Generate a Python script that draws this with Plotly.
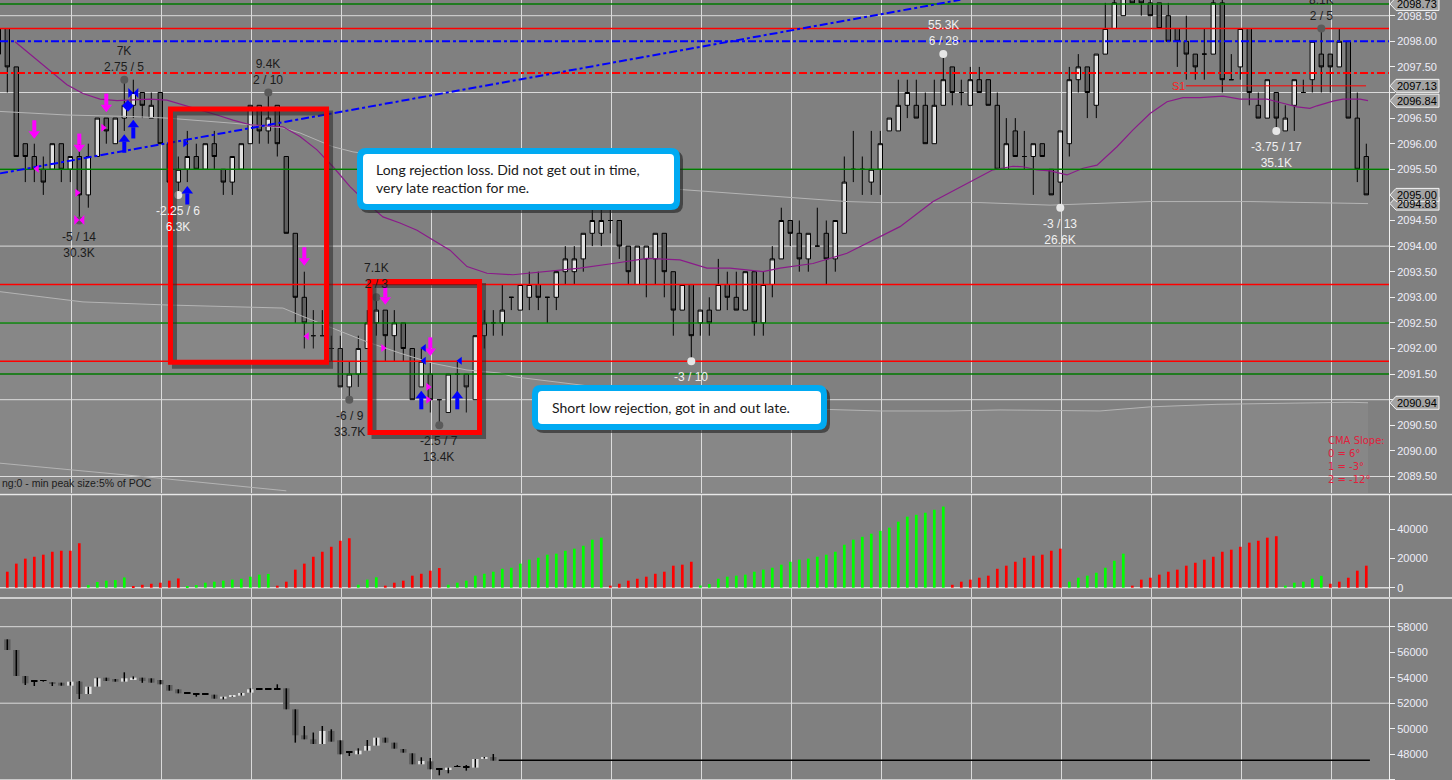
import plotly.graph_objects as go

# ======================= DATA =======================
# ---- main price panel (bar index -1 is the partially visible bar at the left edge)
bar_index = list(range(-1, 152))
price_open = [2097.75, 2098.25, 2097.5, 2096.0, 2095.75, 2095.5, 2095.5, 2096.0, 2095.5, 2095.75,
              2095.0, 2095.75, 2096.5, 2096.0, 2096.5, 2096.75, 2097.0, 2096.5, 2097.0, 2096.0,
              2095.25, 2095.5, 2095.75, 2095.5, 2096.0, 2095.5, 2095.25, 2095.5, 2096.0, 2096.75,
              2096.25, 2096.75, 2095.75, 2094.25, 2093.0, 2092.25, 2092.25, 2092.0, 2092.0, 2091.25,
              2091.5, 2092.0, 2092.5, 2092.75, 2092.25, 2092.5, 2092.0, 2091.25, 2091.5, 2091.0,
              2090.75, 2091.5, 2091.5, 2091.0, 2092.25, 2092.5, 2092.5, 2093.0, 2092.75, 2093.0,
              2093.25, 2093.0, 2093.0, 2093.5, 2093.5, 2093.75, 2094.25, 2094.25, 2094.5, 2094.5,
              2094.0, 2093.25, 2093.75, 2093.75, 2094.25, 2093.5, 2092.75, 2093.25, 2092.5, 2092.75,
              2092.75, 2093.25, 2093.0, 2092.75, 2093.5, 2092.5, 2093.25, 2093.75, 2094.5, 2094.25,
              2093.75, 2094.0, 2094.25, 2093.75, 2094.25, 2095.5, 2095.5, 2095.25, 2095.5, 2096.25,
              2096.25, 2096.75, 2096.75, 2096.75, 2096.0, 2096.75, 2097.5, 2097.0, 2096.75, 2097.25,
              2097.25, 2096.75, 2095.5, 2096.25, 2095.75, 2095.75, 2096.0, 2095.5, 2095.25, 2096.0,
              2097.25, 2097.5, 2096.75, 2097.75, 2098.25, 2098.5, 2099.0, 2099.0, 2098.75, 2098.75,
              2098.5, 2098.25, 2098.0, 2097.75, 2097.75, 2097.75, 2098.75, 2097.25, 2097.5, 2098.25,
              2096.75, 2096.5, 2097.0, 2096.25, 2096.75, 2097.0, 2097.25, 2097.75, 2097.75, 2097.5,
              2098.0, 2096.5, 2095.75]
price_high = [2098.25, 2098.25, 2097.5, 2096.0, 2096.0, 2095.75, 2096.0, 2096.0, 2095.75, 2096.0,
              2096.0, 2096.5, 2096.5, 2096.5, 2097.25, 2097.25, 2097.0, 2097.0, 2097.0, 2096.0,
              2095.75, 2096.25, 2096.0, 2096.0, 2096.25, 2095.5, 2095.75, 2096.0, 2096.75, 2096.75,
              2097.0, 2096.75, 2095.75, 2094.25, 2093.5, 2092.75, 2092.75, 2092.25, 2092.25, 2091.75,
              2092.25, 2092.75, 2093.0, 2092.75, 2092.75, 2092.5, 2092.0, 2092.0, 2091.75, 2091.0,
              2091.5, 2091.75, 2091.5, 2092.25, 2092.75, 2092.75, 2093.25, 2093.0, 2093.25, 2093.5,
              2093.5, 2093.0, 2093.5, 2094.0, 2094.0, 2094.25, 2094.75, 2094.75, 2094.75, 2094.5,
              2094.0, 2094.0, 2094.0, 2094.25, 2094.25, 2093.5, 2093.25, 2093.25, 2092.75, 2093.0,
              2093.75, 2093.5, 2093.5, 2093.5, 2093.5, 2093.5, 2094.0, 2094.75, 2094.5, 2094.5,
              2094.25, 2094.75, 2094.5, 2094.5, 2095.75, 2096.25, 2095.75, 2096.25, 2096.25, 2096.5,
              2097.25, 2097.25, 2097.25, 2097.0, 2097.25, 2097.75, 2097.5, 2097.25, 2097.5, 2097.5,
              2097.25, 2097.0, 2096.5, 2096.5, 2096.25, 2096.0, 2096.0, 2095.5, 2096.25, 2097.5,
              2097.75, 2097.5, 2097.75, 2098.75, 2099.0, 2099.25, 2099.25, 2099.0, 2099.0, 2098.75,
              2098.75, 2098.25, 2098.5, 2097.75, 2098.25, 2099.0, 2099.0, 2097.75, 2098.25, 2098.25,
              2097.0, 2097.25, 2097.0, 2096.75, 2097.25, 2097.25, 2098.0, 2098.25, 2097.75, 2098.25,
              2098.0, 2097.0, 2096.0]
price_low = [2097.75, 2097.0, 2095.75, 2095.25, 2095.25, 2095.0, 2095.5, 2095.25, 2095.25, 2094.5,
             2094.75, 2095.75, 2096.0, 2096.0, 2096.25, 2096.5, 2096.5, 2096.5, 2096.0, 2095.25,
             2095.0, 2095.25, 2095.5, 2095.5, 2095.5, 2095.0, 2095.0, 2095.5, 2096.0, 2096.0,
             2096.0, 2095.75, 2094.25, 2092.5, 2092.0, 2092.0, 2092.25, 2091.75, 2091.25, 2091.0,
             2091.25, 2092.0, 2092.25, 2091.75, 2091.75, 2091.75, 2091.0, 2091.25, 2090.75, 2090.5,
             2090.75, 2091.0, 2090.75, 2091.0, 2092.0, 2092.25, 2092.25, 2092.75, 2092.75, 2092.75,
             2092.75, 2092.5, 2092.75, 2093.25, 2093.25, 2093.5, 2094.0, 2094.0, 2094.25, 2093.75,
             2093.25, 2093.25, 2093.0, 2093.25, 2093.0, 2092.25, 2092.75, 2091.75, 2092.25, 2092.25,
             2092.75, 2092.75, 2092.75, 2092.75, 2092.25, 2092.25, 2093.0, 2093.75, 2094.0, 2093.5,
             2093.5, 2094.0, 2093.25, 2093.5, 2094.25, 2095.25, 2095.0, 2095.0, 2095.0, 2096.25,
             2096.25, 2096.5, 2096.5, 2096.0, 2096.0, 2096.75, 2096.75, 2096.75, 2096.75, 2097.0,
             2096.75, 2095.5, 2095.5, 2095.75, 2095.5, 2095.0, 2095.75, 2095.0, 2094.75, 2095.75,
             2097.0, 2096.5, 2096.5, 2097.75, 2098.25, 2098.5, 2098.75, 2098.5, 2098.5, 2098.25,
             2098.0, 2097.5, 2097.25, 2097.25, 2097.25, 2097.75, 2097.0, 2097.25, 2097.25, 2096.75,
             2096.5, 2096.5, 2096.25, 2096.25, 2096.25, 2097.0, 2097.0, 2097.0, 2097.0, 2097.5,
             2096.5, 2095.25, 2095.0]
price_close = [2098.25, 2097.5, 2095.75, 2095.75, 2095.5, 2095.25, 2096.0, 2095.5, 2095.75, 2095.0,
               2095.75, 2096.5, 2096.25, 2096.5, 2096.75, 2097.0, 2096.75, 2096.75, 2096.0, 2095.25,
               2095.5, 2095.75, 2095.5, 2096.0, 2095.75, 2095.25, 2095.75, 2096.0, 2096.75, 2096.25,
               2096.5, 2096.0, 2094.25, 2093.0, 2092.5, 2092.25, 2092.25, 2092.0, 2091.25, 2091.5,
               2092.0, 2092.5, 2092.75, 2092.25, 2092.5, 2092.0, 2091.0, 2091.75, 2091.0, 2091.0,
               2091.5, 2091.5, 2091.25, 2092.25, 2092.5, 2092.5, 2092.75, 2093.0, 2093.25, 2093.25,
               2093.0, 2093.0, 2093.5, 2093.75, 2093.75, 2094.25, 2094.5, 2094.5, 2094.5, 2094.0,
               2093.5, 2094.0, 2094.0, 2094.25, 2093.5, 2092.75, 2093.25, 2092.25, 2092.75, 2092.5,
               2093.25, 2093.0, 2092.75, 2093.5, 2092.5, 2093.25, 2093.75, 2094.5, 2094.25, 2093.75,
               2094.25, 2094.0, 2093.75, 2094.5, 2095.25, 2095.5, 2095.5, 2095.5, 2096.0, 2096.5,
               2096.75, 2097.0, 2096.5, 2096.0, 2096.75, 2097.25, 2097.0, 2097.0, 2097.25, 2097.0,
               2096.75, 2095.5, 2096.0, 2095.75, 2095.75, 2096.0, 2095.75, 2095.0, 2096.25, 2097.25,
               2097.5, 2097.0, 2097.75, 2098.25, 2098.75, 2099.0, 2098.75, 2098.75, 2098.5, 2098.25,
               2098.0, 2098.0, 2097.75, 2097.5, 2097.75, 2098.75, 2097.25, 2097.25, 2098.25, 2097.0,
               2096.5, 2097.25, 2096.5, 2096.5, 2097.25, 2097.0, 2098.0, 2097.5, 2097.5, 2098.0,
               2096.5, 2095.5, 2095.0]

# moving average (purple) read at sample bars
cma_x = [0.86, 2.86, 4.74, 6.63, 8.41, 10.3, 12.19, 13.97, 15.86, 17.74, 19.52, 21.41, 23.3, 25.08,
         26.97, 28.86, 30.63, 32.52, 34.41, 36.19, 38.08, 39.97, 41.74, 43.63, 45.52, 47.3, 49.19,
         51.08, 53.3, 56.19, 59.97, 63.63, 67.3, 71.08, 74.74, 77.74, 80.3, 83.97, 85.86, 89.52,
         93.3, 96.97, 99.19, 102.86, 106.97, 109.52, 111.74, 112.86, 114.41, 115.86, 117.74, 119.52,
         121.08, 123.3, 125.08, 126.97, 128.86, 130.63, 132.52, 135.08, 136.97, 139.97, 141.74,
         143.3, 144.74, 145.52, 147.3, 148.41, 150.3, 151.19]
cma_y = [2097.99, 2097.70, 2097.44, 2097.15, 2096.98, 2096.87, 2096.84, 2096.85, 2096.87, 2096.85,
         2096.76, 2096.66, 2096.56, 2096.46, 2096.37, 2096.35, 2096.33, 2096.14, 2095.88, 2095.55,
         2095.16, 2094.84, 2094.57, 2094.45, 2094.31, 2094.12, 2093.92, 2093.60, 2093.47, 2093.44,
         2093.50, 2093.57, 2093.66, 2093.76, 2093.73, 2093.57, 2093.57, 2093.50, 2093.57, 2093.66,
         2093.86, 2094.18, 2094.38, 2094.87, 2095.26, 2095.49, 2095.56, 2095.55, 2095.49, 2095.47,
         2095.39, 2095.52, 2095.58, 2095.94, 2096.27, 2096.59, 2096.82, 2096.90, 2096.90, 2096.93,
         2096.87, 2096.87, 2096.79, 2096.72, 2096.69, 2096.74, 2096.83, 2096.87, 2096.87, 2096.84]

# light-grey band curves
band_up_x = [-0.81, 2.86, 6.63, 13.97, 17.74, 25.08, 28.86, 30.63, 32.52, 34.41, 36.19, 38.41,
             49.2, 60.3, 74.74, 83.97, 93.3, 96.97, 108.08, 115.86, 126.97, 138.08, 151.19]
band_up_y = [2096.63, 2096.60, 2096.56, 2096.53, 2096.50, 2096.40, 2096.33, 2096.31, 2096.21,
             2096.07, 2095.94, 2095.84, 2095.58, 2095.29, 2095.10, 2094.98, 2094.87, 2094.85,
             2094.85, 2094.80, 2094.87, 2094.87, 2094.83]
band_mid_x = [-0.81, 8.41, 17.74, 30.63, 32.52, 36.19, 39.97, 43.63, 47.3, 51.08, 54.74, 56.19,
              63.63, 76.97, 91.08, 96.97, 104.74, 110.3, 121.41, 126.97, 134.41, 141.74, 149.19, 151.19]
band_mid_y = [2093.11, 2092.91, 2092.85, 2092.79, 2092.65, 2092.39, 2092.13, 2091.91, 2091.71,
              2091.58, 2091.52, 2091.45, 2091.29, 2091.0, 2090.81, 2090.78, 2090.78, 2090.80,
              2090.78, 2090.86, 2090.91, 2090.93, 2090.95, 2090.94]
band_low_x = [-0.81, 15.0, 31.0]
band_low_y = [2089.76, 2089.5, 2089.22]

# horizontal levels
level_green = [2098.73, 2095.5, 2092.5, 2091.5]
level_red = [2098.25, 2093.25, 2091.75]
level_blue_dashdot = [2098.0]
level_red_dashdot = [2097.38]
s1_level = 2097.13
s1_x = [130.97, 150.97]
trend_x = [-0.81, 105.9]
trend_y = [2095.42, 2098.81]

# signal markers (bar position, price)
mag_down_x = [3, 8, 11, 33, 42, 47]
mag_down_y = [2096.27, 2096.01, 2096.79, 2093.79, 2093.03, 2092.03]
blue_up_x = [13, 14, 20, 46, 50]
blue_up_y = [2096.01, 2096.29, 2095.0, 2091.0, 2091.0]
mag_right_x = [7.75, 10.65, 41.75, 46.75, 46.75]
mag_right_y = [2095.04, 2096.31, 2092.01, 2091.25, 2091.0]
mag_left_x = [3.3, 33.3]
mag_left_y = [2095.51, 2092.24]
blue_right_x = [19.75]
blue_right_y = [2096.01]
blue_left_x = [46.3, 46.3, 50.3]
blue_left_y = [2092.01, 2091.76, 2091.76]
mag_bowtie_x = [8]
mag_bowtie_y = [2094.51]
blue_bowtie_x = [14]
blue_bowtie_y = [2096.99]
blue_diamond_x = [13.4]
blue_diamond_y = [2096.74]

# swing points
swing_x = [13, 29, 8, 19, 38, 41, 48, 76, 104, 117, 141, 146]
swing_y = [2097.25, 2097.0, 2094.5, 2095.0, 2091.0, 2093.0, 2090.5, 2091.75, 2097.75, 2094.75, 2096.25, 2098.25]
swing_text = ["7K<br>2.75 / 5", "9.4K<br>2 / 10", "-5 / 14<br>30.3K", "-2.25 / 6<br>6.3K",
              "-6 / 9<br>33.7K", "7.1K<br>2 / 3", "-2.5 / 7<br>13.4K", "-3 / 10",
              "55.3K<br>6 / 28", "-3 / 13<br>26.6K", "-3.75 / 17<br>35.1K", "8.1K<br>2 / 5"]
swing_side = ["up", "up", "down", "down", "down", "up", "down", "down", "up", "down", "down", "up"]
swing_tone = ["dark", "dark", "dark", "light", "dark", "dark", "dark", "light", "light", "light", "light", "dark"]

# price tags on the right axis
tag_values = [2098.73, 2097.13, 2096.84, 2094.83, 2095.00, 2090.94]

# ---- wave volume panel (thousands), one per bar 0..151
wave_vol_k = [10.9, 16.4, 19.8, 21.1, 22.5, 24.5, 25.2, 25.2, 30.3,
              1.8, 3.9, 4.8, 5.2, 7.0,
              1.1, 2.0, 2.7, 3.4, 4.8, 6.3,
              1.1, 1.8, 3.4, 4.1, 4.8, 5.5, 6.1, 7.5, 8.9, 9.4,
              1.4, 4.1, 12.3, 16.4, 21.1, 24.5, 27.9, 32.0, 33.7,
              2.0, 5.5, 7.1,
              1.4, 3.4, 4.8, 8.2, 9.5, 11.6, 13.4,
              2.0, 3.4, 4.8, 8.2, 9.5, 10.9, 12.9, 13.6, 16.4, 19.1, 20.4, 22.5, 23.2, 25.2, 26.6, 28.6, 32.7, 34.1,
              1.4, 2.7, 4.8, 6.1, 7.5, 9.5, 10.9, 15.0, 15.7, 17.7,
              1.5, 2.5, 6.1, 7.5, 8.2, 8.9, 10.9, 12.3, 13.6, 15.7, 17.7, 19.1, 19.8, 21.1, 22.5, 24.5, 29.3,
              32.7, 34.7, 36.8, 38.8, 40.9, 45.0, 48.4, 49.7, 51.1, 53.1, 55.3,
              2.0, 4.1, 5.5, 6.8, 8.2, 12.9, 15.0, 17.7, 20.4, 21.8, 22.5, 25.2, 26.6,
              4.1, 6.8, 8.2, 10.2, 13.6, 18.4, 23.2,
              1.4, 5.5, 6.8, 8.9, 10.9, 12.3, 15.0, 17.0, 19.1, 21.1, 24.5, 25.9, 27.9, 30.7, 32.0, 34.1, 35.1,
              1.4, 3.4, 4.1, 6.1, 8.1,
              2.7, 4.1, 6.8, 11.6, 15.0]
wave_dir = (["dn"] * 9 + ["up"] * 5 + ["dn"] * 6 + ["up"] * 10 + ["dn"] * 9 + ["up"] * 3 + ["dn"] * 7 +
            ["up"] * 18 + ["dn"] * 10 + ["up"] * 28 + ["dn"] * 13 + ["up"] * 7 + ["dn"] * 17 +
            ["up"] * 5 + ["dn"] * 5)

# ---- lower panel (second instrument)
low_index = list(range(0, 55))
low_open = [57009, 56173, 54134, 53690, 53742, 53637, 53611, 53376, 53690, 52723, 53298, 54003, 53899,
            53690, 53873, 54003, 53951, 53820, 53428, 53088, 52800, 52696, 52670, 52670, 52356, 52513,
            52592, 52827, 53088, 53088, 53088, 53167, 51520, 49481, 49167, 48801, 49821, 49089, 48122,
            47991, 48279, 48671, 49298, 48906, 48410, 48070, 47207, 47442, 46815, 46815, 46998, 46972,
            46946, 47651, 47782]
low_high = [57009, 56173, 54134, 53820, 53820, 53637, 53611, 53690, 53742, 53298, 54003, 54003, 53899,
            54422, 54100, 54003, 53951, 53820, 53428, 53088, 52800, 52696, 52696, 52670, 52513, 52592,
            52801, 53167, 53167, 53167, 53481, 53167, 51520, 50213, 49700, 50213, 49952, 49089, 48122,
            48462, 49115, 49298, 49298, 48906, 48410, 48070, 47756, 47704, 46815, 46946, 47155, 47155,
            47625, 47782, 48017]
low_low = [56173, 54134, 53428, 53350, 53690, 53350, 53376, 53376, 52330, 52723, 53298, 53742, 53690,
           53690, 53873, 53600, 53611, 53481, 52984, 52775, 52775, 52513, 52670, 52356, 52300, 52513,
           52592, 52827, 53088, 53088, 53088, 51520, 48906, 49167, 48801, 48801, 48985, 47991, 47860,
           47991, 48279, 48671, 48906, 48436, 48122, 47207, 47207, 46815, 46344, 46501, 46998, 46710,
           46946, 47651, 47494]
low_close = [56173, 54134, 53559, 53700, 53742, 53507, 53376, 53690, 52723, 53298, 53951, 53742, 53690,
             53951, 54003, 53742, 53611, 53481, 52984, 52775, 52775, 52690, 52680, 52356, 52513, 52592,
             52801, 53088, 53090, 53090, 53085, 51520, 49481, 49167, 48801, 49821, 48985, 47991, 48120,
             48279, 48645, 49298, 48906, 48436, 48122, 47207, 47468, 46815, 46810, 46946, 47000, 46975,
             47625, 47782, 47494]
low_last_x = [54.6, 151.4]
low_last_y = [47520, 47520]

# ======================= STYLE / LAYOUT =======================
W, H = 1452, 780
PW = 1389                      # plot area width in px (right axis at x=1389)
BG = "#808080"
GRID = "#dadada"
AXTXT = "#eeeef8"
XR = [(0 - 7.3) / 9, (PW - 7.3) / 9]
TOP_RANGE = [2089.1777, 2098.8066]
VOL_RANGE = [-6337, 63169]
LOW_RANGE = [45976, 60173]
PX_PER_PT = 51.2
TOP_DOM = [1 - 493 / H, 1]
VOL_DOM = [1 - 597 / H, 1 - 495 / H]
LOW_DOM = [0, 1 - 599 / H]
FONT = "Liberation Sans, Arial, sans-serif"
CALLOUT_FONT = "Lato, Open Sans, sans-serif"

def pxx(x):
    return x / PW

def pxy(y):
    return 1 - y / H

fig = go.Figure()

# ---- top panel background shading below the lower-middle curve
fig.add_trace(go.Scatter(x=band_mid_x + band_mid_x[::-1],
                         y=band_mid_y + [TOP_RANGE[0]] * len(band_mid_x), mode="lines",
                         line=dict(width=0), fill="toself", fillcolor="rgba(255,255,255,0.06)",
                         hoverinfo="skip", xaxis="x", yaxis="y"))

for bx, by in [(band_up_x, band_up_y), (band_mid_x, band_mid_y), (band_low_x, band_low_y)]:
    fig.add_trace(go.Scatter(x=bx, y=by, mode="lines", line=dict(color="#b4b4b4", width=1),
                             hoverinfo="skip", xaxis="x", yaxis="y"))

# ---- candles
fig.add_trace(go.Candlestick(
    x=bar_index, open=price_open, high=price_high, low=price_low, close=price_close,
    increasing=dict(fillcolor="#e1e1e1", line=dict(color="#000000", width=1)),
    decreasing=dict(fillcolor="#5f5f5f", line=dict(color="#000000", width=1)),
    whiskerwidth=0, hoverinfo="skip", xaxis="x", yaxis="y"))

# ---- moving average
fig.add_trace(go.Scatter(x=cma_x, y=cma_y, mode="lines", line=dict(color="#8a1a8a", width=1.2),
                         hoverinfo="skip", xaxis="x", yaxis="y"))

# ---- levels
for lv in level_green:
    fig.add_trace(go.Scatter(x=XR, y=[lv, lv], mode="lines", line=dict(color="#007a00", width=1.5),
                             hoverinfo="skip", xaxis="x", yaxis="y"))
for lv in level_red:
    fig.add_trace(go.Scatter(x=XR, y=[lv, lv], mode="lines", line=dict(color="#ff0000", width=1.5),
                             hoverinfo="skip", xaxis="x", yaxis="y"))
for lv in level_blue_dashdot:
    fig.add_trace(go.Scatter(x=XR, y=[lv, lv], mode="lines",
                             line=dict(color="#0000ff", width=2, dash="8px,3px,3px,3px"),
                             hoverinfo="skip", xaxis="x", yaxis="y"))
for lv in level_red_dashdot:
    fig.add_trace(go.Scatter(x=XR, y=[lv, lv], mode="lines",
                             line=dict(color="#ff0000", width=2, dash="8px,3px,3px,3px"),
                             hoverinfo="skip", xaxis="x", yaxis="y"))
fig.add_trace(go.Scatter(x=s1_x, y=[s1_level, s1_level], mode="lines", line=dict(color="#ff0000", width=1),
                         hoverinfo="skip", xaxis="x", yaxis="y"))
fig.add_trace(go.Scatter(x=trend_x, y=trend_y, mode="lines",
                         line=dict(color="#0000ff", width=2, dash="8px,3px,3px,3px"),
                         hoverinfo="skip", xaxis="x", yaxis="y"))

# ---- swing dots
for sx, sy, tone in zip(swing_x, swing_y, swing_tone):
    fig.add_trace(go.Scatter(x=[sx], y=[sy], mode="markers",
                             marker=dict(symbol="circle", size=8,
                                         color="#e6e6e6" if tone == "light" else "#5a5a5a"),
                             hoverinfo="skip", xaxis="x", yaxis="y"))

# ---- signal markers
off = 4 / PX_PER_PT
MAG = "#ff00ff"
BLUE = "#0000ff"
fig.add_trace(go.Scatter(x=mag_down_x, y=[v + off for v in mag_down_y], mode="markers",
                         marker=dict(symbol="line-ns", size=8, line=dict(color=MAG, width=4)),
                         hoverinfo="skip", xaxis="x", yaxis="y"))
fig.add_trace(go.Scatter(x=mag_down_x, y=[v - off for v in mag_down_y], mode="markers",
                         marker=dict(symbol="triangle-down", size=10, color=MAG),
                         hoverinfo="skip", xaxis="x", yaxis="y"))
fig.add_trace(go.Scatter(x=blue_up_x, y=[v - off for v in blue_up_y], mode="markers",
                         marker=dict(symbol="line-ns", size=8, line=dict(color=BLUE, width=4)),
                         hoverinfo="skip", xaxis="x", yaxis="y"))
fig.add_trace(go.Scatter(x=blue_up_x, y=[v + off for v in blue_up_y], mode="markers",
                         marker=dict(symbol="triangle-up", size=10, color=BLUE),
                         hoverinfo="skip", xaxis="x", yaxis="y"))
for xs, ys, sym, col, sz in [(mag_right_x, mag_right_y, "triangle-right", MAG, 7),
                             (mag_left_x, mag_left_y, "triangle-left", MAG, 7),
                             (blue_right_x, blue_right_y, "triangle-right", BLUE, 7),
                             (blue_left_x, blue_left_y, "triangle-left", BLUE, 7),
                             (mag_bowtie_x, mag_bowtie_y, "bowtie", MAG, 10),
                             (blue_bowtie_x, blue_bowtie_y, "bowtie", BLUE, 10),
                             (blue_diamond_x, blue_diamond_y, "diamond", BLUE, 9)]:
    fig.add_trace(go.Scatter(x=xs, y=ys, mode="markers", marker=dict(symbol=sym, size=sz, color=col),
                             hoverinfo="skip", xaxis="x", yaxis="y"))

# ---- wave volume
vol_colors = ["#00ff00" if d == "up" else "#ff0000" for d in wave_dir]
fig.add_trace(go.Bar(x=bar_index[1:], y=[v * 1000 for v in wave_vol_k], width=0.3,
                     marker=dict(color=vol_colors, line=dict(width=0)), hoverinfo="skip",
                     xaxis="x2", yaxis="y2"))

# ---- lower panel candles
wx, wy = [], []
for i, h, l in zip(low_index, low_high, low_low):
    wx += [i, i, None]
    wy += [l, h, None]
fig.add_trace(go.Scatter(x=wx, y=wy, mode="lines", line=dict(color="#000000", width=1.5),
                         hoverinfo="skip", xaxis="x3", yaxis="y3"))
body_base, body_h, body_col = [], [], []
for o, c in zip(low_open, low_close):
    body_base.append(min(o, c))
    if abs(c - o) < 60:
        body_h.append(70)
        body_col.append("#000000")
    else:
        body_h.append(abs(c - o))
        body_col.append("#e1e1e1" if c > o else "#5f5f5f")
fig.add_trace(go.Bar(x=low_index, y=body_h, base=body_base, width=0.72,
                     marker=dict(color=body_col, line=dict(width=0)), hoverinfo="skip",
                     xaxis="x3", yaxis="y3"))
fig.add_trace(go.Scatter(x=low_last_x, y=low_last_y, mode="lines", line=dict(color="#000000", width=1.5),
                         hoverinfo="skip", xaxis="x3", yaxis="y3"))

# ======================= AXES =======================
grid_x = [7.08 + 10 * k for k in range(16)]
xcommon = dict(range=XR, showticklabels=False, tickvals=grid_x, showgrid=True, gridcolor=GRID,
               gridwidth=1, zeroline=False, showline=False, ticks="", fixedrange=True)
ycommon = dict(side="right", showgrid=False, zeroline=False, showline=True, linecolor="#f0f0f0",
               linewidth=1, ticks="outside", ticklen=5, tickcolor="#f0f0f0", tickwidth=1,
               tickfont=dict(family=FONT, size=11, color=AXTXT), fixedrange=True)

top_ticks = [2089.5 + 0.5 * k for k in range(19)]
# tick labels hidden underneath the price tags
covered = [2097.0, 2095.0, 2091.0]
top_text = ["" if v in covered else f"{v:.2f}" for v in top_ticks]
vol_ticks = [0, 20000, 40000]
low_ticks = [46000 + 2000 * k for k in range(7)]

fig.update_layout(
    width=W, height=H, margin=dict(l=0, r=W - PW, t=0, b=0),
    paper_bgcolor=BG, plot_bgcolor=BG, showlegend=False, hovermode=False,
    xaxis=dict(domain=[0, 1], anchor="y", rangeslider=dict(visible=False), **xcommon),
    xaxis2=dict(domain=[0, 1], anchor="y2", **xcommon),
    xaxis3=dict(domain=[0, 1], anchor="y3", **xcommon),
    yaxis=dict(domain=TOP_DOM, anchor="x", range=TOP_RANGE, tickvals=top_ticks,
               ticktext=top_text, **ycommon),
    yaxis2=dict(domain=VOL_DOM, anchor="x2", range=VOL_RANGE, tickvals=vol_ticks,
                ticktext=[str(v) for v in vol_ticks], **ycommon),
    yaxis3=dict(domain=LOW_DOM, anchor="x3", range=LOW_RANGE, tickvals=low_ticks,
                ticktext=[str(v) for v in low_ticks], **ycommon),
    barmode="overlay",
)

shapes = []
# horizontal grid lines
for v in [2089.5 + 1.5 * k for k in range(7)]:
    shapes.append(dict(type="line", xref="x domain", yref="y", x0=0, x1=1, y0=v, y1=v,
                       line=dict(color=GRID, width=1), layer="below"))
shapes.append(dict(type="line", xref="x2 domain", yref="y2", x0=0, x1=1, y0=0, y1=0,
                   line=dict(color=GRID, width=1.5), layer="below"))
for v in [46000, 52000, 58000]:
    shapes.append(dict(type="line", xref="x3 domain", yref="y3", x0=0, x1=1, y0=v, y1=v,
                       line=dict(color=GRID, width=1), layer="below"))
# panel separators
for ypx in [494.5, 598]:
    shapes.append(dict(type="line", xref="paper", yref="paper", x0=0, x1=W / PW, y0=pxy(ypx), y1=pxy(ypx),
                       line=dict(color="#e8e8e8", width=1.5), layer="above"))

# red highlight rectangles (in data coordinates) with drop shadow
rects = [(18.13, 35.47, 2096.68, 2091.73), (40.3, 52.47, 2093.31, 2090.36)]
sx_off, sy_off = 4 / 9, 4 / PX_PER_PT
for x0, x1, y0, y1 in rects:
    shapes.append(dict(type="rect", xref="x", yref="y", x0=x0 + sx_off, x1=x1 + sx_off,
                       y0=y0 - sy_off, y1=y1 - sy_off,
                       line=dict(color="rgba(40,40,40,0.55)", width=5), layer="above"))
    shapes.append(dict(type="rect", xref="x", yref="y", x0=x0, x1=x1, y0=y0, y1=y1,
                       line=dict(color="#ff0000", width=5), layer="above"))


def rr_path(x0, y0, x1, y1, r):
    def P(x, y):
        return f"{pxx(x):.6f},{pxy(y):.6f}"
    return (f"M {P(x0 + r, y0)} L {P(x1 - r, y0)} Q {P(x1, y0)} {P(x1, y0 + r)} "
            f"L {P(x1, y1 - r)} Q {P(x1, y1)} {P(x1 - r, y1)} L {P(x0 + r, y1)} "
            f"Q {P(x0, y1)} {P(x0, y1 - r)} L {P(x0, y0 + r)} Q {P(x0, y0)} {P(x0 + r, y0)} Z")


callouts = [((357, 148, 680, 210), "Long rejection loss. Did not get out in time,<br>very late reaction for me.", 374),
            ((532, 385, 827, 430), "Short low rejection, got in and out late.", 550)]
annotations = []
for (x0, y0, x1, y1), txt, tx in callouts:
    shapes.append(dict(type="path", xref="paper", yref="paper", path=rr_path(x0 + 3, y0 + 3, x1 + 3, y1 + 3, 9),
                       fillcolor="rgba(30,30,30,0.6)", line=dict(width=0), layer="above"))
    shapes.append(dict(type="path", xref="paper", yref="paper", path=rr_path(x0, y0, x1, y1, 9),
                       fillcolor="#00aaf2", line=dict(width=0), layer="above"))
    shapes.append(dict(type="path", xref="paper", yref="paper", path=rr_path(x0 + 6, y0 + 6, x1 - 6, y1 - 6, 4),
                       fillcolor="#ffffff", line=dict(width=0), layer="above"))
    annotations.append(dict(xref="paper", yref="paper", x=pxx(tx), y=pxy((y0 + y1) / 2), xanchor="left",
                            yanchor="middle", text=txt, showarrow=False, align="left",
                            font=dict(family=CALLOUT_FONT, size=14, color="#1a1a1a")))

# price tags on the right axis
for v in tag_values:
    ypx = 15.7 + (2098.5 - v) * PX_PER_PT
    shapes.append(dict(type="path", xref="paper", yref="paper",
                       path=f"M {pxx(1390)},{pxy(ypx)} L {pxx(1396)},{pxy(ypx - 6.5)} L {pxx(1439)},{pxy(ypx - 6.5)} "
                            f"L {pxx(1439)},{pxy(ypx + 6.5)} L {pxx(1396)},{pxy(ypx + 6.5)} Z",
                       fillcolor="#a3a3a3", line=dict(color="#f4f4f4", width=1), layer="above"))
    annotations.append(dict(xref="paper", yref="y", x=pxx(1417), y=v, xanchor="center", yanchor="middle",
                            text=f"{v:.2f}", showarrow=False,
                            font=dict(family=FONT, size=11, color="#000000")))

# swing labels
for sx, sy, txt, side, tone in zip(swing_x, swing_y, swing_text, swing_side, swing_tone):
    annotations.append(dict(xref="x", yref="y", x=sx, y=sy, text=txt, showarrow=False,
                            xanchor="center", yanchor="bottom" if side == "up" else "top",
                            yshift=4 if side == "up" else -7,
                            font=dict(family=FONT, size=12, color="#f0f0f0" if tone == "light" else "#1c1c1c")))

# misc texts
annotations.append(dict(xref="paper", yref="paper", x=pxx(1178), y=pxy(85.5), text="S1", showarrow=False,
                        xanchor="center", yanchor="middle", font=dict(family=FONT, size=11, color="#ff2020")))
annotations.append(dict(xref="paper", yref="paper", x=0, y=pxy(483), text="ng:0 - min peak size:5% of POC",
                        showarrow=False, xanchor="left", yanchor="middle",
                        font=dict(family=FONT, size=10.5, color="#1c1c1c")))
annotations.append(dict(xref="paper", yref="paper", x=pxx(1326), y=pxy(433), align="left",
                        text="CMA Slope:<br>0 = 6°<br>1 = -3°<br>2 = -12°", showarrow=False,
                        xanchor="left", yanchor="top",
                        font=dict(family="DejaVu Sans, sans-serif", size=10, color="#e0203c")))

fig.update_layout(shapes=shapes, annotations=annotations)

fig.write_html("out.html", config={"displayModeBar": False},
               post_script="document.body.style.margin='0';document.body.style.overflow='hidden';")
